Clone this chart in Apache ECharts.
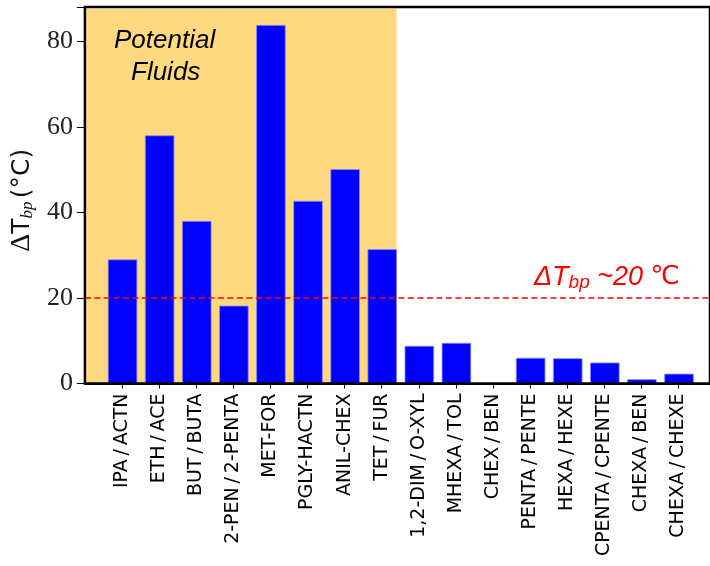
<!DOCTYPE html>
<html>
<head>
<meta charset="utf-8">
<script src="https://cdn.jsdelivr.net/npm/echarts@6/dist/echarts.min.js"></script>
<style>
  html, body { margin: 0; padding: 0; background: #fff; }
  #chart { width: 710px; height: 566px; }
</style>
</head>
<body>
<div id="chart"></div>
<script>
// Fluid pairs (mixture components) on the x axis
const categories = [
  'IPA/ACTN', 'ETH/ACE', 'BUT/BUTA', '2-PEN/2-PENTA', 'MET-FOR', 'PGLY-HACTN',
  'ANIL-CHEX', 'TET/FUR', '1,2-DIM/O-XYL', 'MHEXA/TOL', 'CHEX/BEN',
  'PENTA/PENTE', 'HEXA/HEXE', 'CPENTA/CPENTE', 'CHEXA/BEN', 'CHEXA/CHEXE'
];
// Boiling point difference between the two components, in °C
const deltaTbp = [29.0, 58.0, 38.0, 18.2, 83.8, 42.7, 50.1, 31.4, 8.8, 9.5, 0, 6.0, 5.9, 4.9, 1.0, 2.3];
const yTicks = [0, 20, 40, 60, 80];
const yRange = [0, 88];
// the right end runs past the edge of the figure
const xRange = [-1, 15.85];
// Threshold for a useful separation
const threshold = 20;
// Span of the "potential fluids" group (category index units)
const potentialSpan = [-1, 7.4];

const chart = echarts.init(document.getElementById('chart'), null, { renderer: 'canvas' });

const sans = 'DejaVu Sans';
const serif = 'Liberation Serif';
const isCategoryTick = v => Number.isInteger(v) && v >= 0 && v < categories.length;

chart.setOption({
  animation: false,
  backgroundColor: '#ffffff',
  grid: {
    left: 84, top: 7, right: 0, bottom: 182.5,
    show: true, z: 20, borderColor: '#000', borderWidth: 2.5, backgroundColor: 'transparent'
  },
  xAxis: {
    type: 'value',
    z: 10,
    min: xRange[0], max: xRange[1], interval: 1,
    splitLine: { show: false },
    axisLine: { show: true, onZero: false, lineStyle: { color: '#000', width: 2 } },
    axisTick: { show: true, length: 5, lineStyle: { color: '#000', width: 1 } },
    axisLabel: {
      rotate: 90, margin: 10,
      fontFamily: sans, fontSize: 19, color: '#000',
      showMaxLabel: false, showMinLabel: false,
      formatter: v => (isCategoryTick(v) ? categories[v].replace(/\//g, '\u2009/\u2009') : '')
    }
  },
  yAxis: {
    type: 'value',
    z: 10,
    min: yRange[0], max: yRange[1], interval: 20,
    splitLine: { show: false },
    axisLine: { show: true, onZero: false, lineStyle: { color: '#000', width: 2 } },
    axisTick: { show: true, length: 8, lineStyle: { color: '#000', width: 1 } },
    axisLabel: {
      margin: 12, fontFamily: serif, fontSize: 26, color: '#222',
      formatter: v => (yTicks.includes(v) ? String(v) : '')
    },
    name: '{d|Δ}{t|T}{s|bp} {t|(°C)}',
    nameLocation: 'middle',
    nameRotate: 90,
    nameGap: 32,
    nameTextStyle: {
      padding: [0, 10, 0, 0],
      rich: {
        d: { fontFamily: serif, fontSize: 28, color: '#111' },
        t: { fontFamily: sans, fontSize: 25, color: '#111' },
        s: { fontFamily: serif, fontStyle: 'italic', fontSize: 17, color: '#111', verticalAlign: 'bottom', padding: [8, 0, 0, 0] }
      }
    }
  },
  series: [
    {
      // shaded band behind the candidate fluids, stopping under the top frame line
      type: 'bar',
      data: [],
      z: 1,
      markArea: {
        silent: true,
        itemStyle: { color: '#fed97f' },
        data: [[
          { xAxis: potentialSpan[0], yAxis: yRange[0] },
          { xAxis: potentialSpan[1], yAxis: yRange[1] - 0.4 }
        ]]
      }
    },
    {
      type: 'bar',
      z: 2,
      barWidth: 29.5,
      data: categories.map((c, i) => ({
        value: [i, deltaTbp[i]],
        itemStyle: deltaTbp[i] === 0 ? { borderWidth: 0 } : undefined
      })),
      itemStyle: { color: '#0000ff', borderColor: '#8c8cff', borderWidth: 0.8 },
      markLine: {
        silent: true,
        symbol: 'none',
        label: { show: false },
        data: [
          // threshold line
          { yAxis: threshold, lineStyle: { color: '#ff0000', type: [6, 3.5], width: 1.6 } }
        ]
      }
    }
  ],
  graphic: [
    {
      type: 'text',
      z: 100,
      left: 114, top: 28,
      style: {
        text: 'Potential',
        fontFamily: 'Liberation Sans', fontStyle: 'italic', fontSize: 26, fill: '#000'
      }
    },
    {
      type: 'text',
      z: 100,
      left: 131, top: 60,
      style: {
        text: 'Fluids',
        fontFamily: 'Liberation Sans', fontStyle: 'italic', fontSize: 26, fill: '#000'
      }
    },
    {
      type: 'text',
      z: 100,
      left: 534, top: 264,
      style: {
        text: '{a|ΔT}{s|bp}{a| ~' + threshold + ' }{c|℃}',
        rich: {
          a: { fontFamily: 'Liberation Sans', fontStyle: 'italic', fontSize: 27, fill: '#ff0000', color: '#ff0000' },
          s: { fontFamily: 'Liberation Sans', fontStyle: 'italic', fontSize: 19, fill: '#ff0000', color: '#ff0000', verticalAlign: 'bottom', padding: [10, 0, 0, 0] },
          c: { fontFamily: 'DejaVu Sans', fontSize: 26, fill: '#ff0000', color: '#ff0000' }
        }
      }
    }
  ]
});
</script>
</body>
</html>
